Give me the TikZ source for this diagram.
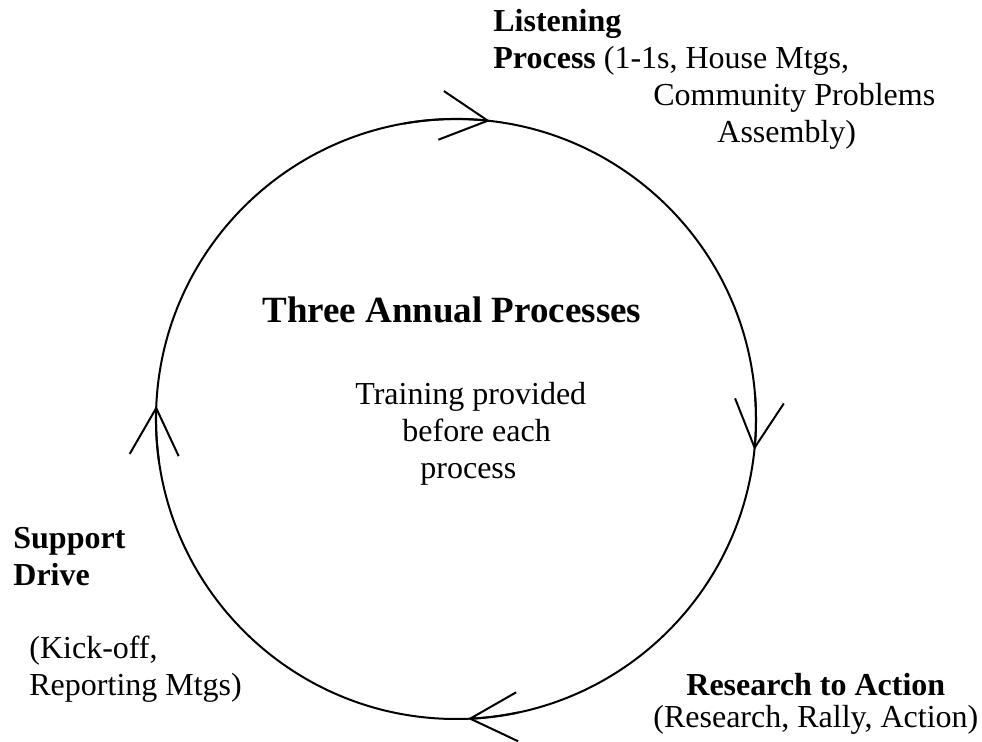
\documentclass[tikz,border=0pt]{standalone}
\usepackage{fontspec}
\setmainfont{Liberation Serif}
\usepackage{tikz}
\usetikzlibrary{arrows.meta}
\usetikzlibrary{calc}
\tikzset{
	%	body text and title
	caption/.style={anchor=base west,inner sep=0,align=left,font=\fontsize{16}{18.5}\selectfont},
	headline/.style={anchor=base west,inner sep=0,font=\fontsize{18.5}{21}\selectfont\bfseries},
	flow/.style={line width=1pt,-{Straight Barb[length=23.5pt,width=24.5pt]}}
}

\begin{document}
\begin{tikzpicture}[x=0.5pt,y=0.5pt]
	\useasboundingbox (0,0) rectangle (982,741);
	\node[circle,draw,line width=1pt,minimum size=300pt,inner sep=0,outer sep=0] (cycle) at (456,322) {};
	
	\draw[flow] (cycle.100) arc[start angle=100,end angle=83.5,radius=150pt];
	\draw[flow] (cycle.5) arc[start angle=5,end angle=-5.9,radius=150pt];
	\draw[flow] (cycle.-78) arc[start angle=-78,end angle=-87.7,radius=150pt];
	\draw[flow] (cycle.188) arc[start angle=188,end angle=177.5,radius=150pt];
	
	\node[headline] (title) at (262,418) {Three Annual Processes};
	% base of a multi-line node = base of its last line
	\node[caption] (training) at (355,263) {Training provided\\\hspace*{23.5pt}before each\\\hspace*{32.5pt}process};
	
	\node[caption] (listening) at (493,598) {\textbf{Listening}\\\textbf{Process} (1-1s, House Mtgs,\\\hspace*{80pt}Community Problems\\\hspace*{112pt}Assembly)};
	\node[caption] (support) at (13,156) {\textbf{Support}\\\textbf{Drive}};
	\node[caption] (kickoff) at (29,46) {(Kick-off,\\Reporting Mtgs)};
	\node[caption] (research) at (686,46) {\textbf{Research to Action}};
	\node[caption] (rally) at (653,14) {(Research, Rally, Action)};
\end{tikzpicture}
\end{document}
